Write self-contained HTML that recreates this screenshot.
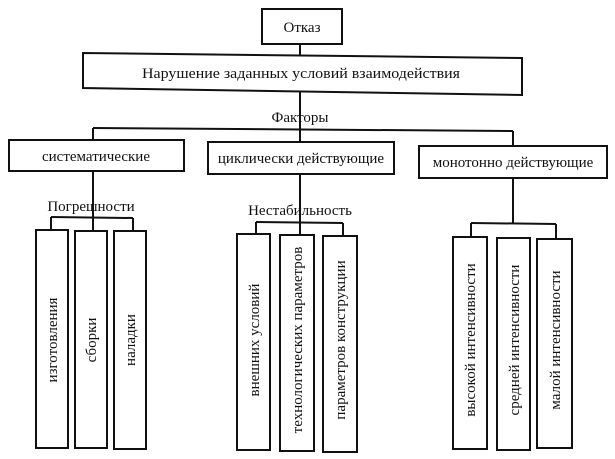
<!DOCTYPE html>
<html><head><meta charset="utf-8"><style>
html,body{margin:0;padding:0;background:#fff;}
svg{display:block;}
text{font-family:"Liberation Serif","DejaVu Serif",serif;font-size:15px;fill:#111;}
</style></head><body>
<svg width="615" height="459" viewBox="0 0 615 459" xmlns="http://www.w3.org/2000/svg">
<g fill="none" stroke="#111" stroke-width="2">
<rect x="262" y="9" width="80" height="35"/>
<line x1="300" y1="44" x2="300" y2="55"/>
<polygon points="83,53 522,58 522,95 83,88"/>
<line x1="300" y1="92" x2="300" y2="142"/>
<line x1="93" y1="128" x2="513" y2="131"/>
<line x1="93" y1="128" x2="93" y2="140"/>
<line x1="513" y1="131" x2="513" y2="146"/>
<rect x="9" y="140" width="175" height="31"/>
<rect x="208" y="142" width="186" height="32"/>
<rect x="419" y="146" width="188" height="32"/>
<line x1="93" y1="171" x2="93" y2="230"/>
<line x1="51" y1="217" x2="133" y2="218"/>
<line x1="51" y1="217" x2="51" y2="230"/>
<line x1="133" y1="218" x2="133" y2="231"/>
<rect x="36" y="230" width="32" height="218"/>
<rect x="75" y="231" width="32" height="217"/>
<rect x="114" y="231" width="32" height="218"/>
<line x1="300" y1="174" x2="300" y2="234"/>
<line x1="256" y1="222" x2="343" y2="223"/>
<line x1="256" y1="222" x2="256" y2="234"/>
<line x1="343" y1="223" x2="343" y2="235"/>
<rect x="237" y="234" width="33" height="216"/>
<rect x="280" y="235" width="34" height="216"/>
<rect x="323" y="236" width="34" height="216"/>
<line x1="513" y1="178" x2="513" y2="224"/>
<line x1="471" y1="223" x2="556" y2="224"/>
<line x1="471" y1="223" x2="471" y2="237"/>
<line x1="556" y1="224" x2="556" y2="238"/>
<rect x="453" y="237" width="34" height="212"/>
<rect x="497" y="238" width="33" height="212"/>
<rect x="537" y="239" width="35" height="209"/>
</g>
<text x="302" y="32" text-anchor="middle">Отказ</text>
<text x="301" y="78" text-anchor="middle" textLength="318" lengthAdjust="spacingAndGlyphs">Нарушение заданных условий взаимодействия</text>
<text x="300" y="122" text-anchor="middle">Факторы</text>
<text x="96" y="161" text-anchor="middle">систематические</text>
<text x="301" y="163" text-anchor="middle">циклически действующие</text>
<text x="513" y="167" text-anchor="middle">монотонно действующие</text>
<text x="91" y="211" text-anchor="middle">Погрешности</text>
<text x="300" y="215" text-anchor="middle">Нестабильность</text>
<g text-anchor="middle">
<text transform="translate(57,340) rotate(-90)">изготовления</text>
<text transform="translate(96,340) rotate(-90)">сборки</text>
<text transform="translate(135,340) rotate(-90)">наладки</text>
<text transform="translate(259,340) rotate(-90)">внешних условий</text>
<text transform="translate(302,340) rotate(-90)">технологических параметров</text>
<text transform="translate(345,340) rotate(-90)">параметров конструкции</text>
<text transform="translate(475,340) rotate(-90)">высокой интенсивности</text>
<text transform="translate(519,340) rotate(-90)">средней интенсивности</text>
<text transform="translate(560,340) rotate(-90)">малой интенсивности</text>
</g>
</svg>
</body></html>
